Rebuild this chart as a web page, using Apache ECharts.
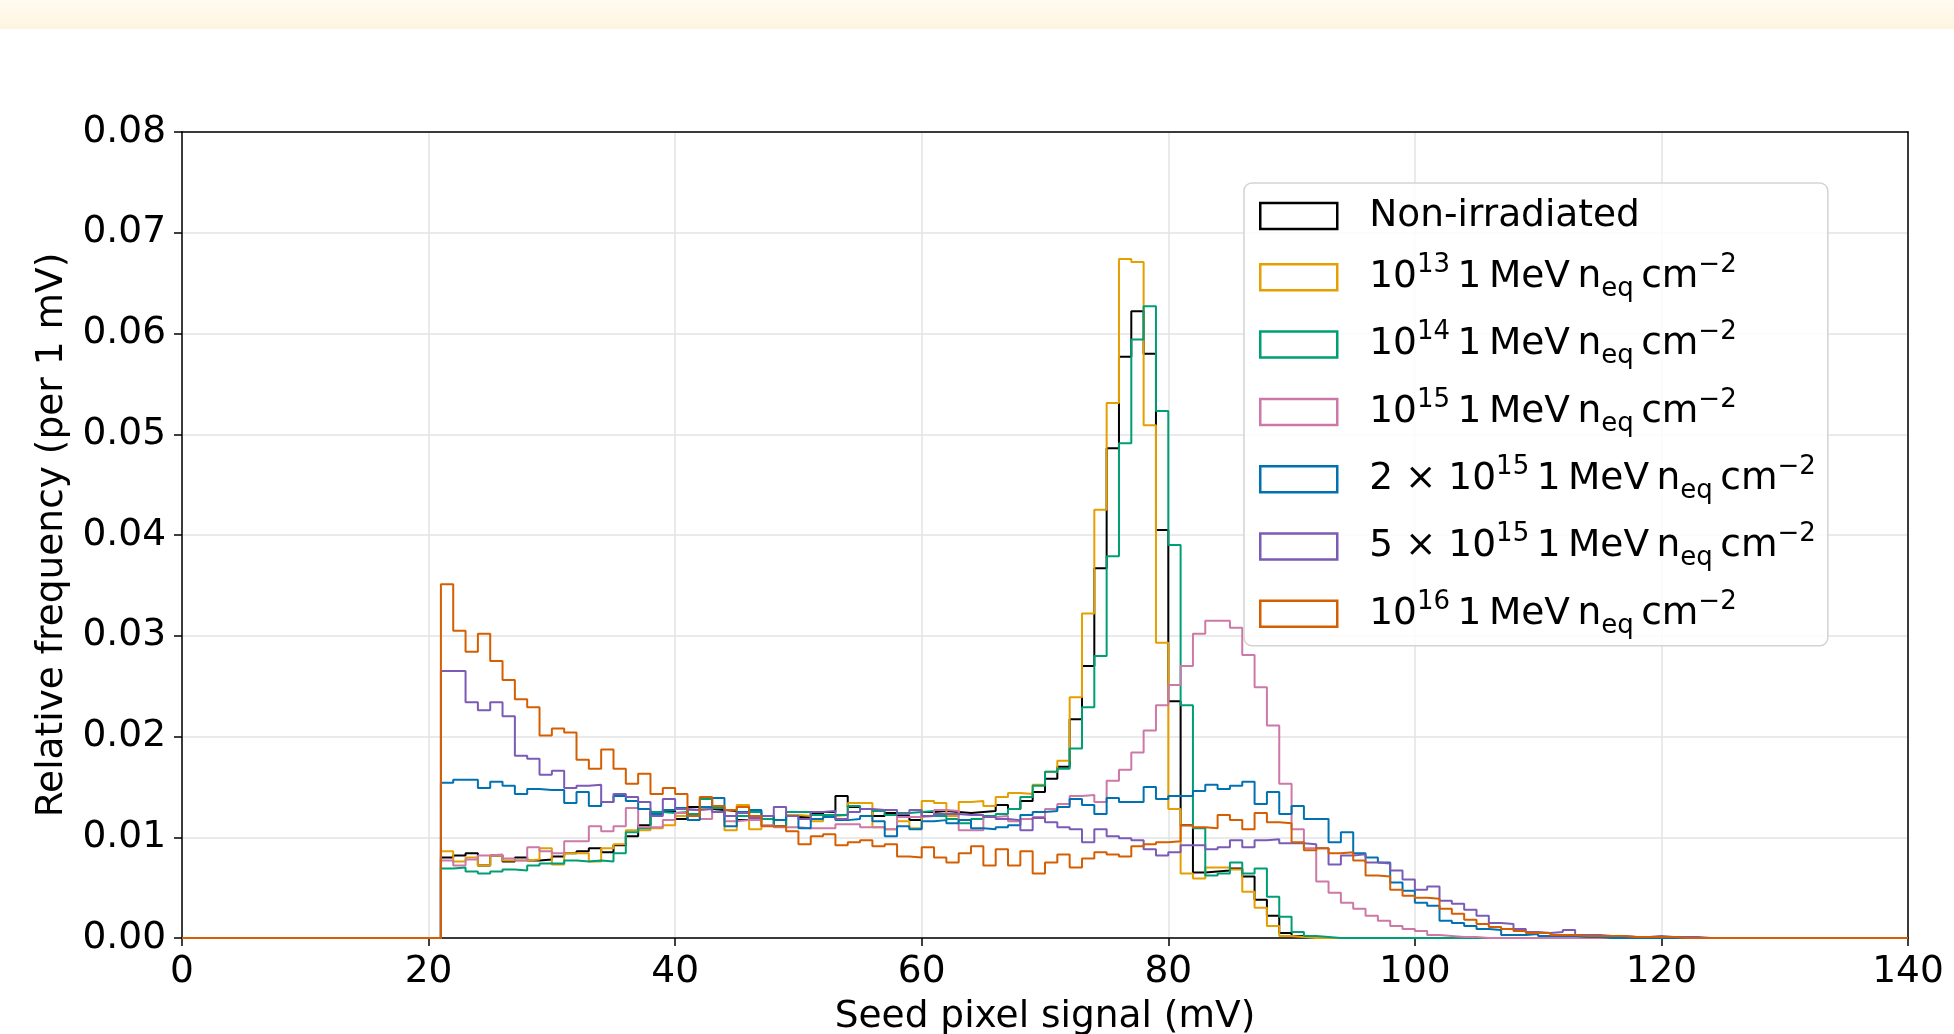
<!DOCTYPE html>
<html>
<head>
<meta charset="utf-8">
<title>Seed pixel signal</title>
<script src="https://cdn.jsdelivr.net/npm/echarts@6/dist/echarts.min.js"></script>
<style>
html, body { margin: 0; padding: 0; background: #fff; }
#box1 { width: 1954px; height: 1034px; }
</style>
</head>
<body>
<div id="box1"></div>
<script>
const iFirstBin = 21;   // first filled bin (mV), everything below is empty
const iBinCount = 140;  // 1 mV bins, 0 .. 140

const aNames = ['Non-irradiated', '1e13', '1e14', '1e15', '2e15', '5e15', '1e16'];
const aColors = ['#000000', '#E69F00', '#009E73', '#CC79A7', '#0072B2', '#7B5BB6', '#D55E00'];

const sT = '\u2009';
const aLegendText = [
    '{gap| }{t|Non-irradiated}',
    `{gap| }{t|10}{sup|13}{t|${sT}1${sT}MeV${sT}n}{sub|eq}{t|${sT}cm}{sup|\u22122}`,
    `{gap| }{t|10}{sup|14}{t|${sT}1${sT}MeV${sT}n}{sub|eq}{t|${sT}cm}{sup|\u22122}`,
    `{gap| }{t|10}{sup|15}{t|${sT}1${sT}MeV${sT}n}{sub|eq}{t|${sT}cm}{sup|\u22122}`,
    `{gap| }{t|2 \u00d7 10}{sup|15}{t|${sT}1${sT}MeV${sT}n}{sub|eq}{t|${sT}cm}{sup|\u22122}`,
    `{gap| }{t|5 \u00d7 10}{sup|15}{t|${sT}1${sT}MeV${sT}n}{sub|eq}{t|${sT}cm}{sup|\u22122}`,
    `{gap| }{t|10}{sup|16}{t|${sT}1${sT}MeV${sT}n}{sub|eq}{t|${sT}cm}{sup|\u22122}`,
];

// relative frequency per 1 mV bin, starting at bin 21
const aNonIrr = [
    0.0080, 0.0082, 0.0084, 0.0072, 0.0082, 0.0076, 0.0080, 0.0077, 0.0078, 0.0081,
    0.0084, 0.0086, 0.0089, 0.0085, 0.0092, 0.0101, 0.0112, 0.0125, 0.0126, 0.0118,
    0.0130, 0.0128, 0.0127, 0.0126, 0.0117, 0.0118, 0.0121, 0.0111, 0.0122, 0.0120,
    0.0123, 0.0125, 0.0141, 0.0130, 0.0128, 0.0121, 0.0124, 0.0121, 0.0117, 0.0125,
    0.0126, 0.0125, 0.0124, 0.0125, 0.0126, 0.0132, 0.0128, 0.0136, 0.0145, 0.0158,
    0.0170, 0.0217, 0.0270, 0.0367, 0.0486, 0.0577, 0.0622, 0.0580, 0.0405, 0.0235,
    0.0112, 0.0065, 0.0066, 0.0067, 0.0069, 0.0061, 0.0038, 0.0022, 0.0005, 0.0002,
    0.0001,
];
const a1e13 = [
    0.0086, 0.0076, 0.0080, 0.0072, 0.0082, 0.0077, 0.0077, 0.0078, 0.0089, 0.0073,
    0.0084, 0.0084, 0.0076, 0.0089, 0.0093, 0.0107, 0.0107, 0.0109, 0.0112, 0.0121,
    0.0123, 0.0129, 0.0125, 0.0107, 0.0132, 0.0108, 0.0121, 0.0117, 0.0122, 0.0121,
    0.0116, 0.0121, 0.0122, 0.0134, 0.0134, 0.0110, 0.0108, 0.0116, 0.0109, 0.0136,
    0.0134, 0.0121, 0.0135, 0.0136, 0.0131, 0.0140, 0.0144, 0.0143, 0.0152, 0.0165,
    0.0176, 0.0239, 0.0322, 0.0425, 0.0531, 0.0674, 0.0671, 0.0509, 0.0293, 0.0128,
    0.0064, 0.0059, 0.0070, 0.0070, 0.0068, 0.0046, 0.0030, 0.0012, 0.0002, 0.0001,
];
const a1e14 = [
    0.0069, 0.0070, 0.0066, 0.0064, 0.0066, 0.0068, 0.0067, 0.0072, 0.0074, 0.0074,
    0.0077, 0.0076, 0.0077, 0.0076, 0.0084, 0.0105, 0.0109, 0.0125, 0.0124, 0.0125,
    0.0123, 0.0138, 0.0129, 0.0121, 0.0121, 0.0125, 0.0118, 0.0111, 0.0125, 0.0125,
    0.0122, 0.0122, 0.0122, 0.0131, 0.0128, 0.0126, 0.0122, 0.0124, 0.0125, 0.0126,
    0.0121, 0.0118, 0.0114, 0.0118, 0.0121, 0.0123, 0.0128, 0.0140, 0.0151, 0.0165,
    0.0168, 0.0188, 0.0229, 0.0280, 0.0379, 0.0491, 0.0594, 0.0627, 0.0523, 0.0390,
    0.0231, 0.0109, 0.0062, 0.0064, 0.0075, 0.0064, 0.0069, 0.0041, 0.0021, 0.0006,
    0.0002, 0.0001,
];
const a1e15 = [
    0.0077, 0.0072, 0.0078, 0.0082, 0.0083, 0.0079, 0.0077, 0.0090, 0.0086, 0.0084,
    0.0096, 0.0096, 0.0111, 0.0106, 0.0111, 0.0129, 0.0110, 0.0110, 0.0117, 0.0124,
    0.0127, 0.0118, 0.0125, 0.0116, 0.0117, 0.0117, 0.0112, 0.0110, 0.0110, 0.0109,
    0.0109, 0.0109, 0.0113, 0.0113, 0.0110, 0.0110, 0.0108, 0.0120, 0.0120, 0.0121,
    0.0127, 0.0126, 0.0107, 0.0107, 0.0120, 0.0121, 0.0116, 0.0118, 0.0120, 0.0128,
    0.0133, 0.0141, 0.0142, 0.0135, 0.0156, 0.0167, 0.0184, 0.0206, 0.0231, 0.0251,
    0.0270, 0.0302, 0.0315, 0.0315, 0.0308, 0.0281, 0.0249, 0.0211, 0.0153, 0.0108,
    0.0089, 0.0056, 0.0045, 0.0035, 0.0029, 0.0022, 0.0017, 0.0012, 0.0009, 0.0007,
    0.0003, 0.0002, 0.0001, 0.0001,
];
const a2e15 = [
    0.0154, 0.0157, 0.0157, 0.0149, 0.0155, 0.0151, 0.0143, 0.0148, 0.0147, 0.0147,
    0.0134, 0.0145, 0.0131, 0.0135, 0.0141, 0.0136, 0.0128, 0.0123, 0.0127, 0.0129,
    0.0117, 0.0130, 0.0139, 0.0111, 0.0125, 0.0127, 0.0121, 0.0117, 0.0121, 0.0109,
    0.0118, 0.0120, 0.0117, 0.0118, 0.0121, 0.0116, 0.0101, 0.0111, 0.0108, 0.0116,
    0.0117, 0.0114, 0.0117, 0.0109, 0.0108, 0.0110, 0.0112, 0.0122, 0.0125, 0.0126,
    0.0130, 0.0138, 0.0132, 0.0123, 0.0139, 0.0135, 0.0135, 0.0150, 0.0138, 0.0141,
    0.0141, 0.0146, 0.0152, 0.0148, 0.0151, 0.0155, 0.0133, 0.0145, 0.0123, 0.0131,
    0.0118, 0.0118, 0.0095, 0.0105, 0.0084, 0.0080, 0.0075, 0.0055, 0.0047, 0.0035,
    0.0032, 0.0017, 0.0015, 0.0012, 0.0009, 0.0008, 0.0003, 0.0003, 0.0004, 0.0002,
    0.0002, 0.0002, 0.0001, 0.0001,
];
const a5e15 = [
    0.0265, 0.0265, 0.0234, 0.0226, 0.0234, 0.0220, 0.0181, 0.0178, 0.0162, 0.0166,
    0.0149, 0.0151, 0.0152, 0.0135, 0.0143, 0.0140, 0.0135, 0.0121, 0.0138, 0.0128,
    0.0127, 0.0128, 0.0125, 0.0121, 0.0124, 0.0119, 0.0121, 0.0130, 0.0121, 0.0118,
    0.0125, 0.0126, 0.0118, 0.0125, 0.0128, 0.0127, 0.0127, 0.0123, 0.0127, 0.0121,
    0.0123, 0.0123, 0.0122, 0.0122, 0.0120, 0.0118, 0.0117, 0.0107, 0.0119, 0.0115,
    0.0110, 0.0108, 0.0095, 0.0108, 0.0101, 0.0099, 0.0097, 0.0088, 0.0082, 0.0085,
    0.0092, 0.0092, 0.0088, 0.0090, 0.0097, 0.0090, 0.0097, 0.0098, 0.0094, 0.0094,
    0.0093, 0.0089, 0.0073, 0.0082, 0.0083, 0.0075, 0.0074, 0.0067, 0.0058, 0.0048,
    0.0051, 0.0037, 0.0034, 0.0028, 0.0022, 0.0015, 0.0014, 0.0009, 0.0006, 0.0005,
    0.0006, 0.0008, 0.0003, 0.0003, 0.0002, 0.0002, 0.0001, 0.0001, 0.0002, 0.0001,
    0.0001, 0.0001,
];
const a1e16 = [
    0.0351, 0.0305, 0.0284, 0.0302, 0.0275, 0.0256, 0.0237, 0.0229, 0.0201, 0.0208,
    0.0204, 0.0177, 0.0168, 0.0187, 0.0168, 0.0153, 0.0163, 0.0143, 0.0149, 0.0143,
    0.0121, 0.0140, 0.0131, 0.0127, 0.0130, 0.0121, 0.0111, 0.0111, 0.0106, 0.0093,
    0.0101, 0.0103, 0.0092, 0.0095, 0.0097, 0.0091, 0.0093, 0.0081, 0.0080, 0.0090,
    0.0080, 0.0075, 0.0084, 0.0091, 0.0072, 0.0088, 0.0072, 0.0086, 0.0064, 0.0075,
    0.0083, 0.0070, 0.0079, 0.0085, 0.0083, 0.0081, 0.0091, 0.0093, 0.0095, 0.0096,
    0.0112, 0.0110, 0.0109, 0.0122, 0.0117, 0.0108, 0.0124, 0.0115, 0.0114, 0.0095,
    0.0087, 0.0089, 0.0084, 0.0085, 0.0077, 0.0062, 0.0061, 0.0048, 0.0042, 0.0040,
    0.0039, 0.0029, 0.0024, 0.0018, 0.0014, 0.0011, 0.0009, 0.0007, 0.0005, 0.0005,
    0.0003, 0.0003, 0.0002, 0.0002, 0.0002, 0.0002, 0.0001, 0.0001, 0.0001, 0.0001,
];
const aAllSeries = [aNonIrr, a1e13, a1e14, a1e15, a2e15, a5e15, a1e16];

const aXTicks = [0, 20, 40, 60, 80, 100, 120, 140];
const aYTicks = [0, 0.01, 0.02, 0.03, 0.04, 0.05, 0.06, 0.07, 0.08];

const sFont = 'DejaVu Sans';
const iFs = 37.5;

// outline of a step histogram: one point per bin edge
function getStepData(aVals){
    const aPts = [];
    for (let b = 0; b < iBinCount; b++) {
        const i = b - iFirstBin;
        const v = (i >= 0 && i < aVals.length) ? aVals[i] : 0;
        aPts.push([b, v]);
    }
    aPts.push([iBinCount, 0]);
    return aPts;
}

const series = aAllSeries.map((aVals, idx) => ({
    name: aNames[idx],
    type: 'line',
    step: 'end',
    data: getStepData(aVals),
    showSymbol: false,
    symbol: 'none',
    color: aColors[idx],
    lineStyle: { color: aColors[idx], width: 2 },
    emphasis: { disabled: true },
    animation: false,
    z: 2 + idx,
}));

const oAxisLine = { show: true, onZero: false, lineStyle: { color: '#000', width: 1.5 } };
const oTick = { show: true, length: 8, lineStyle: { color: '#000', width: 1.5 } };
const oGrid = { show: true, lineStyle: { color: '#e3e3e3', width: 1.5 } };

const oBox1 = document.getElementById('box1');
const myChart = echarts.init(oBox1, null, { renderer: 'canvas' });

const option = {
    animation: false,
    backgroundColor: '#ffffff',
    textStyle: { fontFamily: sFont },
    graphic: [{
        type: 'rect',
        silent: true,
        z: -10,
        shape: { x: 0, y: 0, width: 1954, height: 29 },
        style: {
            fill: new echarts.graphic.LinearGradient(0, 0, 0, 1, [
                { offset: 0, color: '#fffbf1' },
                { offset: 1, color: '#fdf5df' },
            ]),
        },
    }],
    grid: {
        left: 182, right: 46, top: 132, bottom: 96,
        containLabel: false,
        outerBoundsMode: 'none',
    },
    legend: {
        orient: 'vertical',
        left: 1244, top: 183,
        padding: [14, 12, 7, 15],
        itemGap: 17.3,
        itemWidth: 77, itemHeight: 26,
        selectedMode: false,
        z: 20,
        backgroundColor: 'rgba(255,255,255,0.85)',
        borderColor: '#d3d3d3', borderWidth: 1.5, borderRadius: 8,
        data: aNames.map((name, i) => ({
            name,
            icon: 'rect',
            itemStyle: { color: 'rgba(255,255,255,0)', borderColor: aColors[i], borderWidth: 2.5 },
        })),
        formatter: name => aLegendText[aNames.indexOf(name)],
        textStyle: {
            fontFamily: sFont, fontSize: iFs, color: '#000',
            rich: {
                gap: { width: 27, fontSize: iFs, lineHeight: 50 },
                t: { fontFamily: sFont, fontSize: iFs, lineHeight: 50, color: '#000' },
                sup: { fontFamily: sFont, fontSize: 26, lineHeight: 28, verticalAlign: 'top', color: '#000' },
                sub: { fontFamily: sFont, fontSize: 26, lineHeight: 30, verticalAlign: 'bottom', color: '#000' },
            },
        },
    },
    xAxis: [{
        type: 'value',
        min: aXTicks[0], max: aXTicks[aXTicks.length - 1], interval: 20,
        name: 'Seed pixel signal (mV)',
        nameLocation: 'middle', nameGap: 60,
        nameTextStyle: { fontFamily: sFont, fontSize: iFs, color: '#000' },
        axisLine: oAxisLine,
        axisTick: oTick,
        axisLabel: { fontFamily: sFont, fontSize: iFs, color: '#000', margin: 15 },
        splitLine: oGrid,
        z: 1,
    }, {
        // top spine
        type: 'value', position: 'top',
        min: aXTicks[0], max: aXTicks[aXTicks.length - 1], interval: 20,
        axisLine: oAxisLine,
        axisTick: { show: false }, axisLabel: { show: false }, splitLine: { show: false },
        z: 5,
    }],
    yAxis: [{
        type: 'value',
        min: aYTicks[0], max: aYTicks[aYTicks.length - 1], interval: 0.01,
        name: 'Relative frequency (per 1 mV)',
        nameLocation: 'middle', nameGap: 110,
        nameTextStyle: { fontFamily: sFont, fontSize: iFs, color: '#000' },
        axisLine: oAxisLine,
        axisTick: oTick,
        axisLabel: { fontFamily: sFont, fontSize: iFs, color: '#000', margin: 16,
            formatter: v => v.toFixed(2) },
        splitLine: oGrid,
        z: 1,
    }, {
        // right spine
        type: 'value', position: 'right',
        min: aYTicks[0], max: aYTicks[aYTicks.length - 1], interval: 0.01,
        axisLine: oAxisLine,
        axisTick: { show: false }, axisLabel: { show: false }, splitLine: { show: false },
        z: 5,
    }],
    series,
};

myChart.setOption(option);
</script>
</body>
</html>
